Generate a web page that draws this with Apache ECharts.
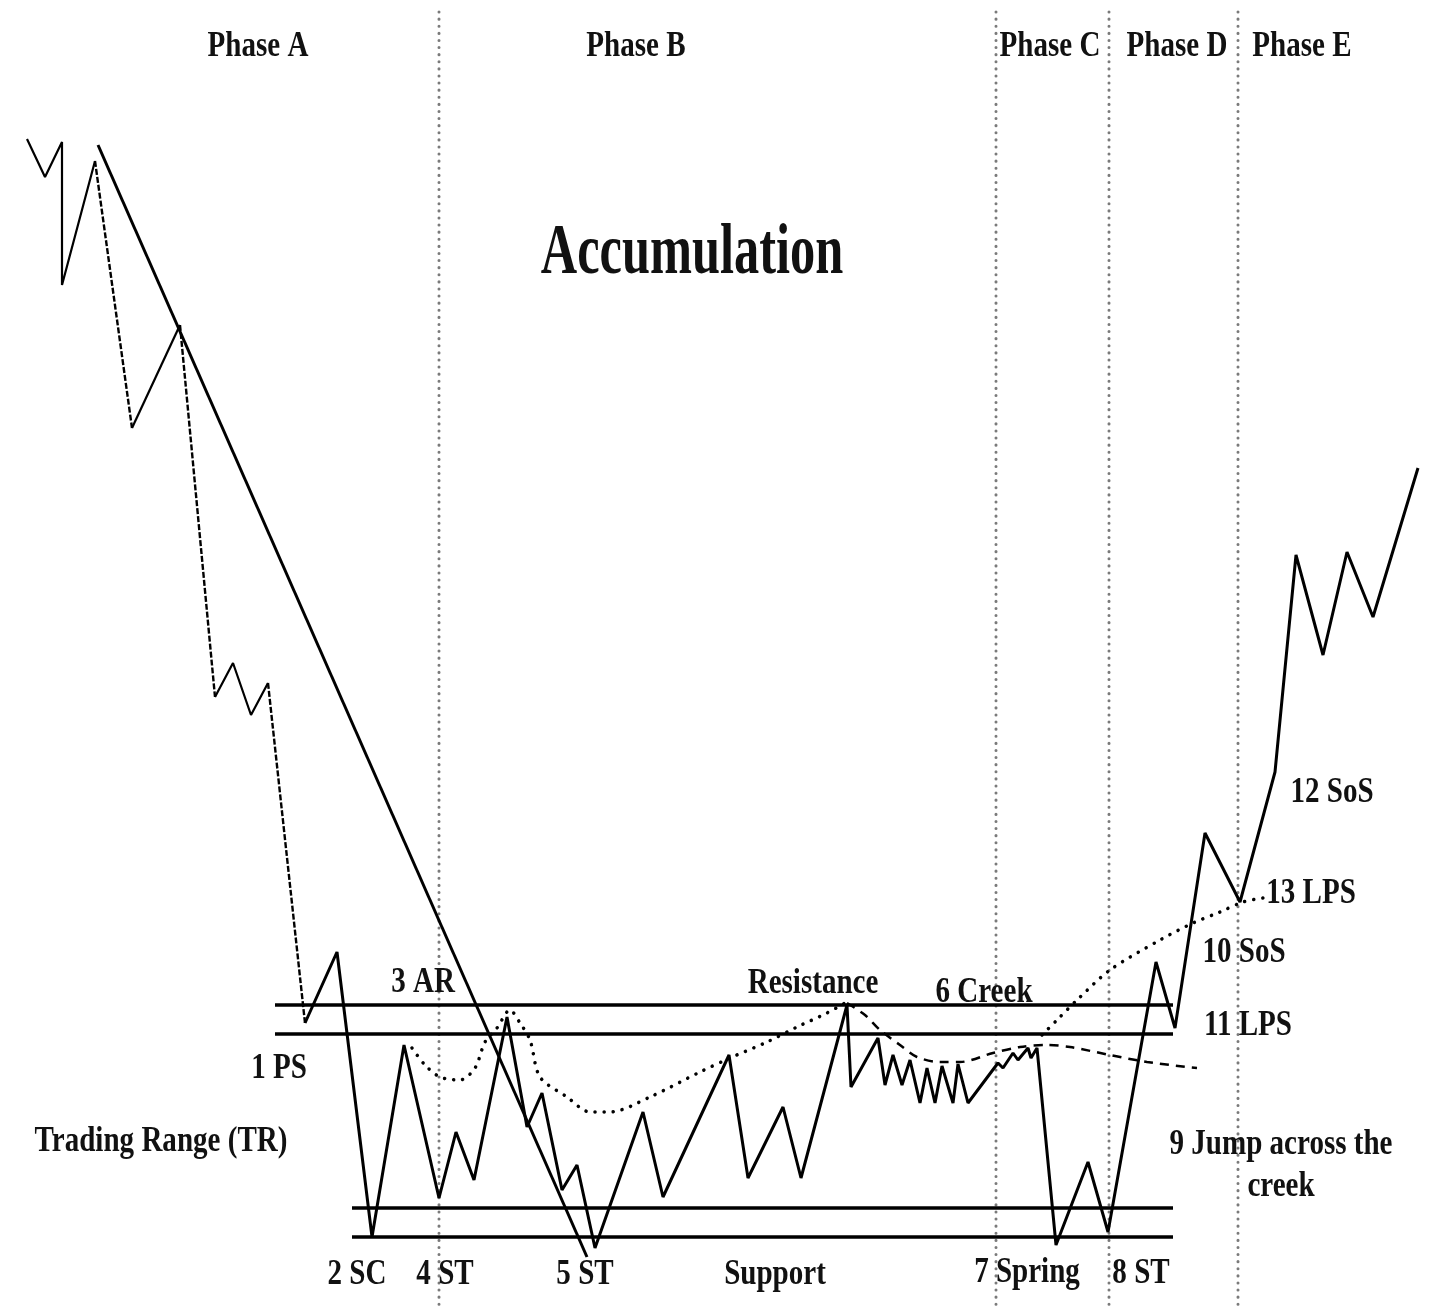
<!DOCTYPE html>
<html><head><meta charset="utf-8">
<script src="https://cdn.jsdelivr.net/npm/echarts@6/dist/echarts.min.js"></script>
<style>html,body{margin:0;padding:0;background:#fff}#c{width:1434px;height:1311px}</style>
</head><body><div id="c"></div>
<script>
// Time position (x) and price level (y, measured downward: the y axis is inverted)
const priceX = [27,45,62,62,95,132,180,215,233,251,268,305,337,372,404,439,456,474,507,527,542,562,577,595,643,663,729,748,783,801,847,851,878,885,893,902,910,920,927,935,942,953,958,968,998,1003,1013,1018,1028,1031,1037,1056,1088,1108,1156,1175,1205,1240,1275,1296,1323,1347,1373,1418];
const priceY = [139,177,142,285,161,428,325,697,663,715,683,1023,952,1237,1045,1198,1132,1180,1017,1127,1093,1190,1165,1248,1112,1197,1055,1178,1107,1178,1005,1087,1038,1085,1055,1085,1060,1103,1068,1103,1066,1103,1064,1103,1063,1068,1053,1060,1048,1058,1048,1245,1162,1232,962,1028,833,902,772,555,655,552,617,468];
const dashedSegmentStarts = [4,6,10];
const thinSegmentsEnd = 11;

const trendX = [98,587];
const trendY = [145,1257];

const resistanceLevels = [1005,1034];
const resistanceSpan = [275,1173];
const supportLevels = [1208,1237];
const supportSpan = [352,1173];

const phaseDividerX = [439,996,1109,1238];
const phaseDividerSpan = [12,1311];

const avgAX = [412,425,440,460,475,485,497,510,520,530,540,567,590,610,650,700,730,767,797,827,845];
const avgAY = [1048,1065,1077,1080,1068,1042,1028,1010,1023,1040,1077,1097,1112,1112,1097,1072,1058,1042,1027,1013,1003];
const avgBX = [847,865,880,900,917,940,960,993,1020,1047,1070,1110,1147,1197];
const avgBY = [1003,1015,1030,1045,1057,1062,1062,1053,1047,1045,1047,1055,1062,1068];
const avgCX = [1042,1057,1077,1110,1160,1193,1220,1243,1263];
const avgCY = [1035,1020,1000,970,940,923,912,902,898];

const phaseTexts = ['Phase A','Phase B','Phase C','Phase D','Phase E'];
const phaseTextX = [258,636,1050,1177,1302];
const phaseTextY = [47,47,47,47,47];

const titleText = 'Accumulation';
const titleX = 692, titleY = 254;

const labelTexts = ['3 AR','1 PS','Trading Range (TR)','2 SC','4 ST','5 ST','Support','Resistance','6 Creek','7 Spring','8 ST','9 Jump across the','creek','10 SoS','11 LPS','12 SoS','13 LPS'];
const labelX = [423,279,161,357,445,585,775,813,984,1027,1141,1281,1281,1244,1248,1332,1311];
const labelY = [983,1069,1142,1275,1275,1275,1275,984,993,1273,1274,1145,1187,953,1026,793,894];

const zip = (xs, ys) => xs.map((x, i) => [x, ys[i]]);

function segClass(i){
  if (dashedSegmentStarts.includes(i)) return 'dashed';
  if (i < thinSegmentsEnd) return 'thin';
  return 'thick';
}
const styles = {
  thin: {color:'#000', width:2.2},
  dashed: {color:'#000', width:2.4, type:[6,2]},
  thick: {color:'#000', width:3}
};
const series = [];
let cur = null, curCls = null;
for (let i = 0; i < priceX.length - 1; i++) {
  const cls = segClass(i);
  if (cls !== curCls) {
    if (cur) series.push({type:'line', data:cur, symbol:'none', lineStyle:styles[curCls], z:5, silent:true});
    cur = [[priceX[i], priceY[i]]];
    curCls = cls;
  }
  cur.push([priceX[i+1], priceY[i+1]]);
}
series.push({type:'line', data:cur, symbol:'none', lineStyle:styles[curCls], z:5, silent:true});

series.push({type:'line', data:zip(trendX, trendY), symbol:'none', lineStyle:{color:'#000', width:3}, z:4});
resistanceLevels.forEach(v => series.push({type:'line', data:[[resistanceSpan[0],v],[resistanceSpan[1],v]], symbol:'none', lineStyle:{color:'#000', width:3.5}, z:4}));
supportLevels.forEach(v => series.push({type:'line', data:[[supportSpan[0],v],[supportSpan[1],v]], symbol:'none', lineStyle:{color:'#000', width:3.5}, z:4}));
phaseDividerX.forEach(x => series.push({type:'line', data:[[x,phaseDividerSpan[0]],[x,phaseDividerSpan[1]]], symbol:'none', lineStyle:{color:'#7a7a7a', width:3, type:[0.1,7], cap:'round'}, z:2}));
series.push({type:'line', data:zip(avgAX, avgAY), symbol:'none', smooth:0.3, lineStyle:{color:'#000', width:3.5, type:[0.1,9], cap:'round'}, z:3});
series.push({type:'line', data:zip(avgBX, avgBY), symbol:'none', smooth:0.3, lineStyle:{color:'#000', width:2.5, type:[9,7]}, z:3});
series.push({type:'line', data:zip(avgCX, avgCY), symbol:'none', smooth:0.3, lineStyle:{color:'#000', width:3.5, type:[0.1,9], cap:'round'}, z:3});

const chart = echarts.init(document.getElementById('c'), null, {renderer:'canvas'});
chart.setOption({
  animation:false,
  backgroundColor:'#fff',
  grid:{left:0,right:0,top:0,bottom:0},
  xAxis:{type:'value', min:0, max:1434, show:false},
  yAxis:{type:'value', min:0, max:1311, inverse:true, show:false},
  series: series
});

const font = '"Liberation Serif","Times New Roman",serif';
const graphics = [];
function addText(t, x, y, size, sx){
  const p = chart.convertToPixel({gridIndex:0}, [x, y]);
  graphics.push({type:'text', x:p[0], y:p[1], scaleX:sx, z:10,
    style:{text:t, fill:'#111', fontSize:size, fontWeight:'bold', fontFamily:font, align:'center', verticalAlign:'middle'}});
}
phaseTexts.forEach((t,i) => addText(t, phaseTextX[i], phaseTextY[i], 35, 0.83));
addText(titleText, titleX, titleY, 72, 0.7);
labelTexts.forEach((t,i) => addText(t, labelX[i], labelY[i], 35, 0.83));
chart.setOption({graphic: graphics});
</script></body></html>
